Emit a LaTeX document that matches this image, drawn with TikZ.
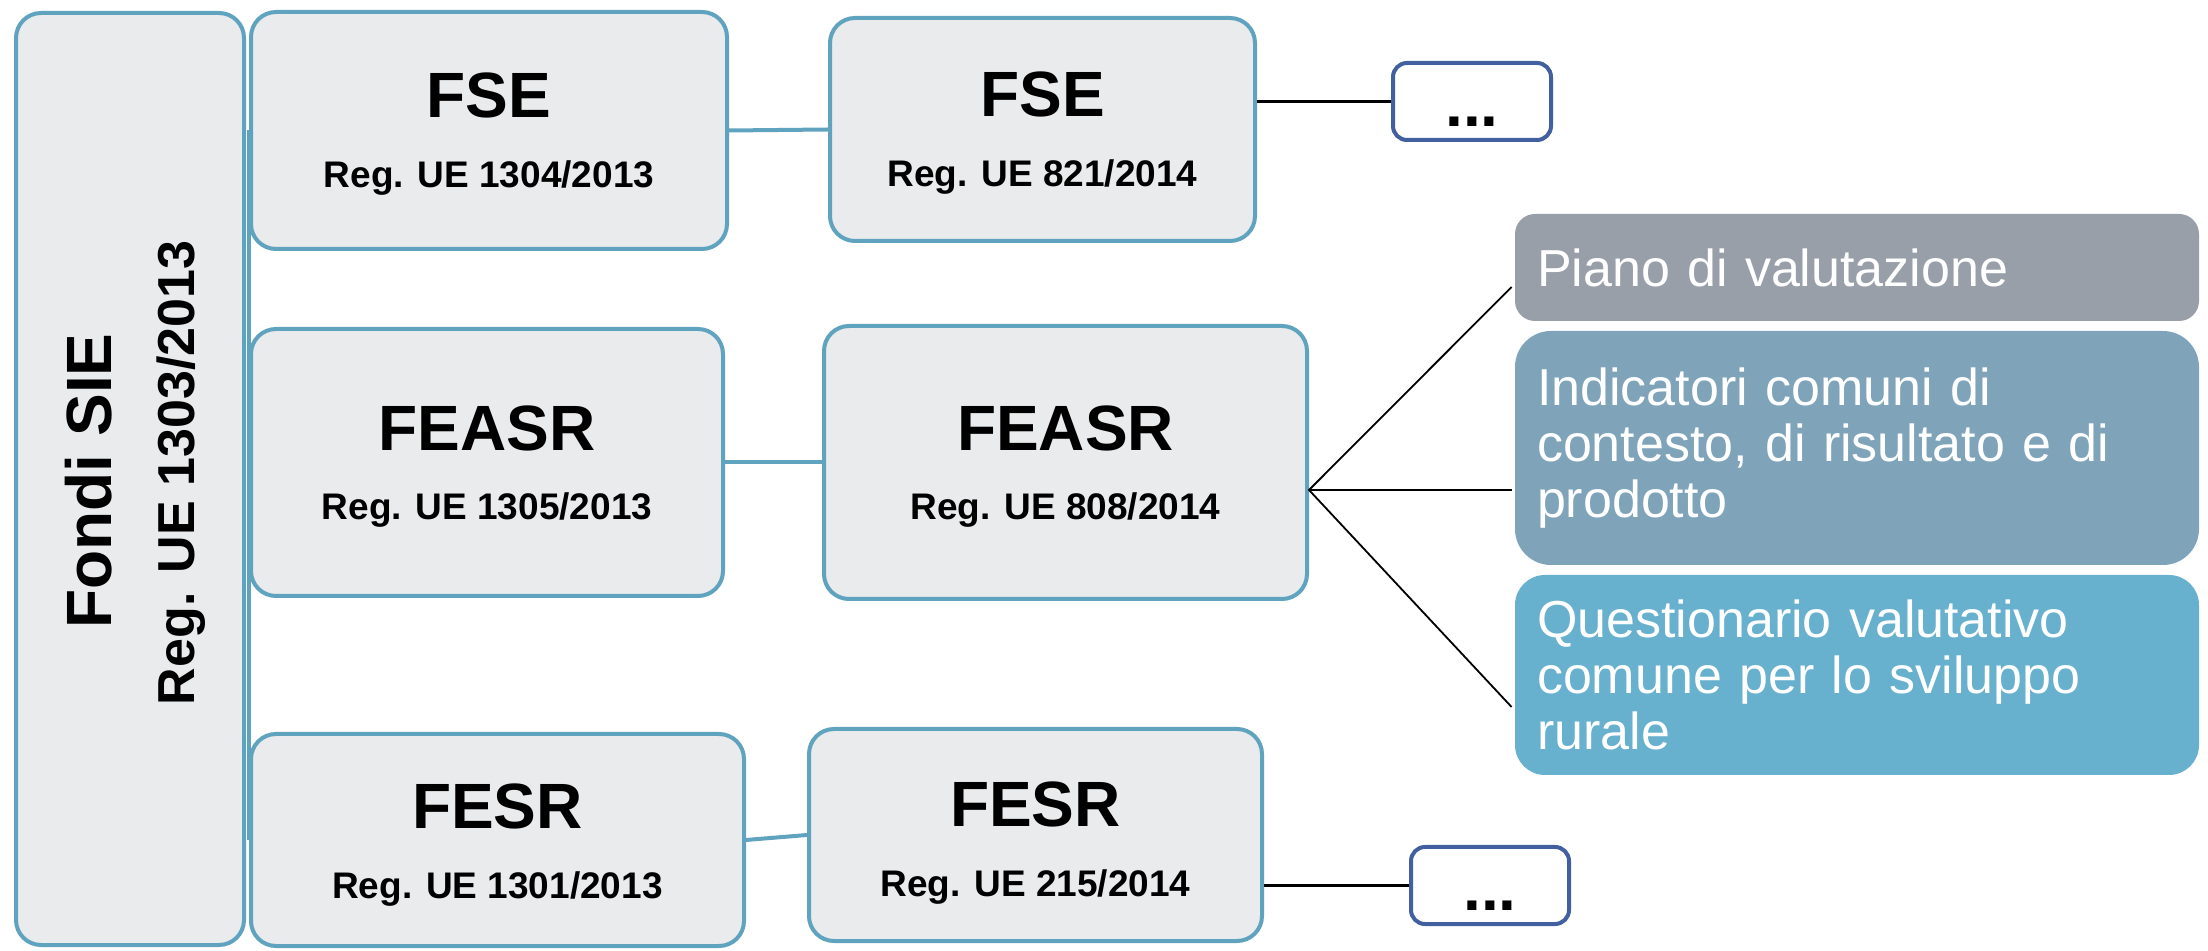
\documentclass[tikz,border=0pt]{standalone}
\usepackage{fontspec}
\setmainfont{Liberation Sans}
\usetikzlibrary{calc,fit,backgrounds}
\definecolor{boxfill}{RGB}{233,235,237}
\definecolor{boxline}{RGB}{96,163,190}
\definecolor{dotline}{RGB}{66,96,160}
\definecolor{pianofill}{RGB}{152,159,168}
\definecolor{indicfill}{RGB}{127,164,186}
\definecolor{questfill}{RGB}{103,176,206}
\begin{document}
\begin{tikzpicture}[x=0.5pt,y=-0.5pt,
  fundbox/.style={draw=boxline, fill=boxfill, line width=2pt, rounded corners=12.5pt, inner sep=0pt},
  dotbox/.style={draw=dotline, fill=white, line width=2pt, rounded corners=7pt, inner sep=0pt},
  title/.style={anchor=base, font=\fontsize{32}{38}\selectfont\bfseries, inner sep=0pt},
  reg/.style={anchor=base, font=\fontsize{18.5}{22}\selectfont\bfseries, inner sep=0pt},
  infobox/.style={fill=#1, draw=none, text=white, minimum width=342pt, text width=320pt, inner xsep=11pt, inner ysep=0pt, align=left, font=\fontsize{26}{28}\selectfont},
  blueline/.style={draw=boxline, line width=2pt},
  blackline/.style={draw=black, line width=1.2pt},
  fanline/.style={draw=black, line width=0.9pt}]
\useasboundingbox (0,0) rectangle (2208,951);
% boxes
\node[fundbox, fit={(16,13) (244,945)}] (left) {};
\node[fundbox, fit={(251,12) (727,249)}] (fse1) {};
\node[fundbox, fit={(830,18) (1255,241)}] (fse2) {};
\node[dotbox, fit={(1393,63) (1551,140)}] (dots1) {};
\node[fundbox, fit={(251,329) (723,596)}] (feasr1) {};
\node[fundbox, fit={(824,326) (1307,599)}] (feasr2) {};
\node[fundbox, fit={(251,734) (744,946)}] (fesr1) {};
\node[fundbox, fit={(809,729) (1262,941)}] (fesr2) {};
\node[dotbox, fit={(1411,847) (1569,924)}] (dots2) {};
% texts
\node[title] (fse1t) at (489,118) {FSE};
\node[reg] (fse1r) at (489,188) {Reg. UE 1304/2013};
\node[title] (fse2t) at (1042.5,117) {FSE};
\node[reg] (fse2r) at (1042.5,187) {Reg. UE 821/2014};
\node[title] (feasr1t) at (487,451) {FEASR};
\node[reg] (feasr1r) at (487,520) {Reg. UE 1305/2013};
\node[title] (feasr2t) at (1065.5,451) {FEASR};
\node[reg] (feasr2r) at (1065.5,520) {Reg. UE 808/2014};
\node[title] (fesr1t) at (497.5,829) {FESR};
\node[reg] (fesr1r) at (497.5,899) {Reg. UE 1301/2013};
\node[title] (fesr2t) at (1035.5,827) {FESR};
\node[reg] (fesr2r) at (1035.5,897) {Reg. UE 215/2014};
\node[title] (dots1t) at (1472,127) {...};
\node[title] (dots2t) at (1490,910) {...};
\node[title, rotate=90] (fondi) at (111,481) {Fondi SIE};
\node[font=\fontsize{26}{30}\selectfont\bfseries, anchor=base, inner sep=0pt, rotate=90] (leftreg) at (194,473) {Reg. UE 1303/2013};
% right boxes
\node[infobox=pianofill, rounded corners=10pt, minimum height=53.5pt] (piano) at (1857,267.5) {Piano di valutazione};
\node[infobox=indicfill, rounded corners=18pt, minimum height=117pt] (indic) at (1857,448) {Indicatori comuni di\\contesto, di risultato e di\\prodotto};
\node[infobox=questfill, rounded corners=15pt, minimum height=100pt] (quest) at (1857,675) {Questionario valutativo\\comune per lo sviluppo\\rurale};
% connectors
\begin{scope}[on background layer]
\draw[blueline] (fse1.west) -- (fesr1.west);
\end{scope}
\draw[blueline] (fse1.east) -- (fse2.west);
\draw[blueline] (feasr1.east) -- (feasr2.west);
\draw[blueline] (fesr1.east) -- (fesr2.west);
\draw[blackline] (dots1.west) -- (dots1.west -| fse2.east);
\draw[blackline] (dots2.west) -- (dots2.west -| fesr2.east);
\coordinate (fanpt) at ($(feasr2.east)+(0,27.5)$);
\coordinate (e1) at ($(piano.west)+(-3,19.5)$);
\coordinate (e2) at ($(indic.west)+(-3,42)$);
\coordinate (e3) at ($(quest.west)+(-3,32)$);
\draw[fanline] (e1) -- (fanpt) -- (e3);
\draw[fanline] (fanpt) -- (e2);
\end{tikzpicture}
\end{document}
